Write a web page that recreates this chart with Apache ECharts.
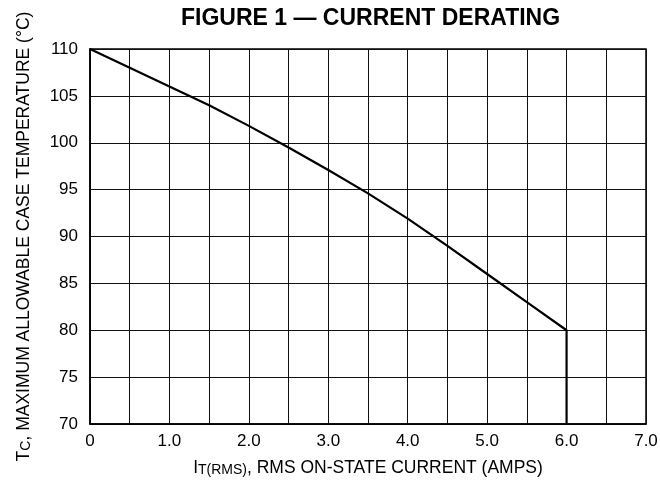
<!DOCTYPE html>
<html>
<head>
<meta charset="utf-8">
<script src="https://cdn.jsdelivr.net/npm/echarts@6/dist/echarts.min.js"></script>
<style>
html,body{margin:0;padding:0;background:#fff;}
#chart{width:660px;height:486px;}
</style>
</head>
<body>
<div id="chart"></div>
<script>
// Data
const currentAmps = [0, 0.5, 1.0, 1.5, 2.0, 2.5, 3.0, 3.5, 4.0, 4.5, 5.0, 5.5, 6.0, 6.0];
const caseTempC   = [110, 108, 106, 104, 101.8, 99.5, 97.1, 94.6, 91.9, 89.0, 86.0, 83.0, 80, 70];
const xTickLabels = ['0', '1.0', '2.0', '3.0', '4.0', '5.0', '6.0', '7.0'];
const titleText = 'FIGURE 1 — CURRENT DERATING';

const FONT = "'Liberation Sans', Arial, Helvetica, sans-serif";
const chart = echarts.init(document.getElementById('chart'), null, {renderer: 'canvas'});

const nameRich = {
  a: {fontFamily: FONT, fontSize: 17.5, lineHeight: 18, verticalAlign: 'top', color: '#000'},
  b: {fontFamily: FONT, fontSize: 14, lineHeight: 14, padding: [8, 0, 0, 0], verticalAlign: 'bottom', color: '#000'}
};

const option = {
  backgroundColor: '#fff',
  animation: false,
  title: {
    text: titleText,
    left: 176,
    top: 2,
    textStyle: {fontFamily: FONT, fontWeight: 'bold', fontSize: 23, color: '#000'}
  },
  grid: {
    left: 90, right: 14, top: 49, bottom: 62,
    outerBoundsMode: 'none',
    show: true, borderColor: '#000', borderWidth: 1.5, backgroundColor: 'transparent'
  },
  xAxis: {
    type: 'value', min: 0, max: 7, interval: 0.5,
    name: '{a|I}{b|T(RMS)}{a|, RMS ON-STATE CURRENT (AMPS)}',
    nameLocation: 'middle', nameGap: 35,
    nameTextStyle: {fontFamily: FONT, color: '#000', rich: nameRich},
    axisLine: {show: true, lineStyle: {color: '#000', width: 1.5}},
    axisTick: {show: false},
    splitLine: {show: true, lineStyle: {color: '#111', width: 1}},
    axisLabel: {
      fontFamily: FONT, fontSize: 17, color: '#000', margin: 9,
      formatter: function (v) {
        const i = Math.round(v * 2);
        return (i % 2 === 0) ? xTickLabels[i / 2] : '';
      }
    }
  },
  yAxis: {
    type: 'value', min: 70, max: 110, interval: 5,
    name: '{a|T}{b|C}{a|, MAXIMUM ALLOWABLE CASE TEMPERATURE (°C)}',
    nameLocation: 'middle', nameGap: 57, nameRotate: 90,
    nameTextStyle: {fontFamily: FONT, color: '#000', rich: nameRich},
    axisLine: {show: true, lineStyle: {color: '#000', width: 1.5}},
    axisTick: {show: false},
    splitLine: {show: true, lineStyle: {color: '#111', width: 1}},
    axisLabel: {fontFamily: FONT, fontSize: 17, color: '#000', margin: 12}
  },
  series: [{
    type: 'line',
    data: currentAmps.map((x, i) => [x, caseTempC[i]]),
    showSymbol: false,
    smooth: false,
    lineStyle: {color: '#000', width: 2.2},
    z: 5
  }]
};
chart.setOption(option);
</script>
</body>
</html>
